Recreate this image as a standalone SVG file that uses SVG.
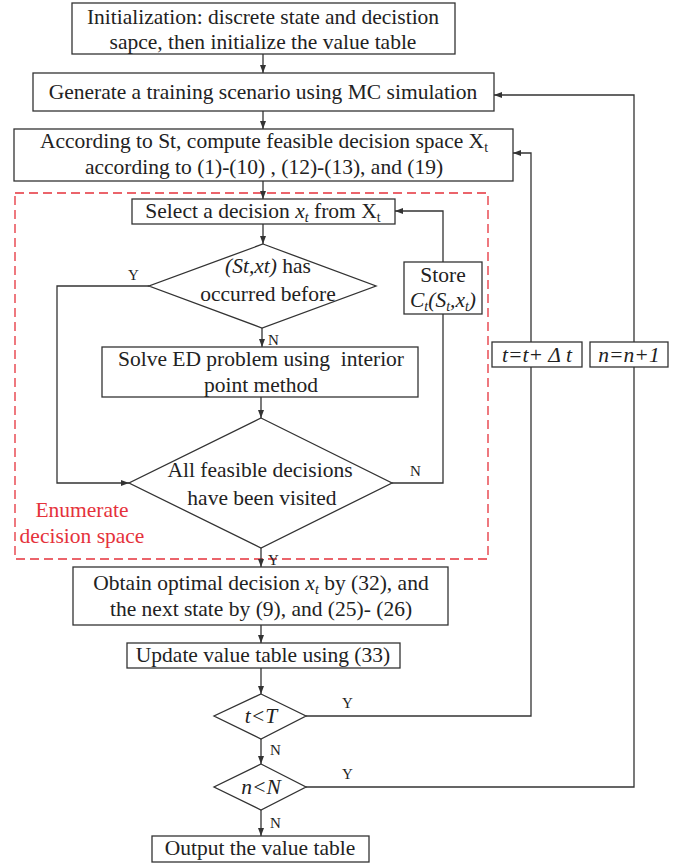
<svg xmlns="http://www.w3.org/2000/svg" width="682" height="863" viewBox="0 0 682 863">
<style>
.box{fill:#fff;stroke:#333;stroke-width:1.3}
.ln{fill:none;stroke:#333;stroke-width:1.3}
.t{font-family:"Liberation Serif","Times New Roman",serif;font-size:21.5px;fill:#222;text-anchor:middle;white-space:pre}
.lab{font-family:"Liberation Serif","Times New Roman",serif;font-size:15px;fill:#222}
.i{font-style:italic}
.red{fill:#e5323b}
</style>
<defs>
<marker id="ah" markerWidth="8" markerHeight="6" refX="8" refY="3" orient="auto" markerUnits="userSpaceOnUse">
<path d="M0,0 L8,3 L0,6 Z" fill="#333"/>
</marker>
</defs>
<rect width="682" height="863" fill="#fff"/>

<g id="enumerate-region">
<rect x="15" y="193" width="473" height="366" fill="none" stroke="#e5323b" stroke-width="1.3" stroke-dasharray="9,5"/>
<text class="t red" x="82" y="517">Enumerate</text>
<text class="t red" x="82" y="543">decision space</text>
</g>

<g id="connectors">
<path class="ln" d="M263,54 V73" marker-end="url(#ah)"/>
<path class="ln" d="M263,111 V129" marker-end="url(#ah)"/>
<path class="ln" d="M263,181 V199" marker-end="url(#ah)"/>
<path class="ln" d="M263,224 V244" marker-end="url(#ah)"/>
<path class="ln" d="M262,328 V347" marker-end="url(#ah)"/>
<path class="ln" d="M261,397 V418" marker-end="url(#ah)"/>
<path class="ln" d="M149,286 H57 V483 H129" marker-end="url(#ah)"/>
<path class="ln" d="M392,483 H443 V314"/>
<path class="ln" d="M443,262 V211 H395" marker-end="url(#ah)"/>
<path class="ln" d="M261,548 V567" marker-end="url(#ah)"/>
<path class="ln" d="M261,625 V643" marker-end="url(#ah)"/>
<path class="ln" d="M261,668 V694" marker-end="url(#ah)"/>
<path class="ln" d="M261,739 V764" marker-end="url(#ah)"/>
<path class="ln" d="M261,810 V836" marker-end="url(#ah)"/>
<path class="ln" d="M306,716 H531 V153 H513" marker-end="url(#ah)"/>
<path class="ln" d="M306,787 H634 V95 H494" marker-end="url(#ah)"/>
<text class="lab" x="128" y="280">Y</text>
<text class="lab" x="268" y="345">N</text>
<text class="lab" x="410" y="476">N</text>
<text class="lab" x="268" y="565">Y</text>
<text class="lab" x="342" y="708">Y</text>
<text class="lab" x="270" y="755">N</text>
<text class="lab" x="342" y="779">Y</text>
<text class="lab" x="270" y="828">N</text>
</g>

<g id="init">
<rect class="box" x="72" y="3" width="383" height="51"/>
<text class="t" x="263" y="24">Initialization: discrete state and decistion</text>
<text class="t" x="263" y="49">sapce, then initialize the value table</text>
</g>

<g id="generate">
<rect class="box" x="33" y="73" width="461" height="38"/>
<text class="t" x="263" y="99">Generate a training scenario using MC simulation</text>
</g>

<g id="compute">
<rect class="box" x="14" y="129" width="499" height="52"/>
<text class="t" x="264" y="148">According to St, compute feasible decision space X<tspan font-size="14" dy="4">t</tspan></text>
<text class="t" x="264" y="174">according to (1)-(10) , (12)-(13), and (19)</text>
</g>

<g id="select">
<rect class="box" x="132" y="199" width="263" height="25"/>
<text class="t" x="263" y="218">Select a decision <tspan class="i">x</tspan><tspan class="i" font-size="14" dy="4">t</tspan><tspan dy="-4"> from X</tspan><tspan font-size="14" dy="4">t</tspan></text>
</g>

<g id="occurred">
<polygon class="box" points="263,244 376,286 262,328 149,286"/>
<text class="t" x="268" y="273"><tspan class="i">(St,xt)</tspan> has</text>
<text class="t" x="268" y="301">occurred before</text>
</g>

<g id="solve">
<rect class="box" x="102" y="347" width="316" height="50"/>
<text class="t" x="261" y="366">Solve ED problem using  interior</text>
<text class="t" x="261" y="392">point method</text>
</g>

<g id="store">
<rect class="box" x="404" y="262" width="78" height="52"/>
<text class="t" x="443" y="282">Store</text>
<text class="t i" x="443" y="307">C<tspan font-size="14" dy="4">t</tspan><tspan dy="-4">(S</tspan><tspan font-size="14" dy="4">t</tspan><tspan dy="-4">,x</tspan><tspan font-size="14" dy="4">t</tspan><tspan dy="-4">)</tspan></text>
</g>

<g id="visited">
<polygon class="box" points="261,418 392,483 261,548 129,483"/>
<text class="t" x="260" y="477">All feasible decisions</text>
<text class="t" x="262" y="505">have been visited</text>
</g>

<g id="obtain">
<rect class="box" x="73" y="567" width="375" height="58"/>
<text class="t" x="261" y="590">Obtain optimal decision <tspan class="i">x</tspan><tspan class="i" font-size="14" dy="4">t</tspan><tspan dy="-4"> by (32), and</tspan></text>
<text class="t" x="261" y="616">the next state by (9), and (25)- (26)</text>
</g>

<g id="update">
<rect class="box" x="127" y="643" width="273" height="25"/>
<text class="t" x="263" y="662">Update value table using (33)</text>
</g>

<g id="t-check">
<polygon class="box" points="261,694 306,716 261,739 214,716"/>
<text class="t i" x="261" y="723">t&lt;T</text>
</g>

<g id="n-check">
<polygon class="box" points="261,764 306,787 261,810 214,787"/>
<text class="t i" x="261" y="794">n&lt;N</text>
</g>

<g id="output">
<rect class="box" x="152" y="836" width="217" height="26"/>
<text class="t" x="260" y="855">Output the value table</text>
</g>

<g id="t-inc">
<rect class="box" x="492" y="342" width="90" height="25"/>
<text class="t i" x="537" y="362">t=t+ Δ t</text>
</g>

<g id="n-inc">
<rect class="box" x="590" y="342" width="78" height="25"/>
<text class="t i" x="629" y="362">n=n+1</text>
</g>
</svg>
